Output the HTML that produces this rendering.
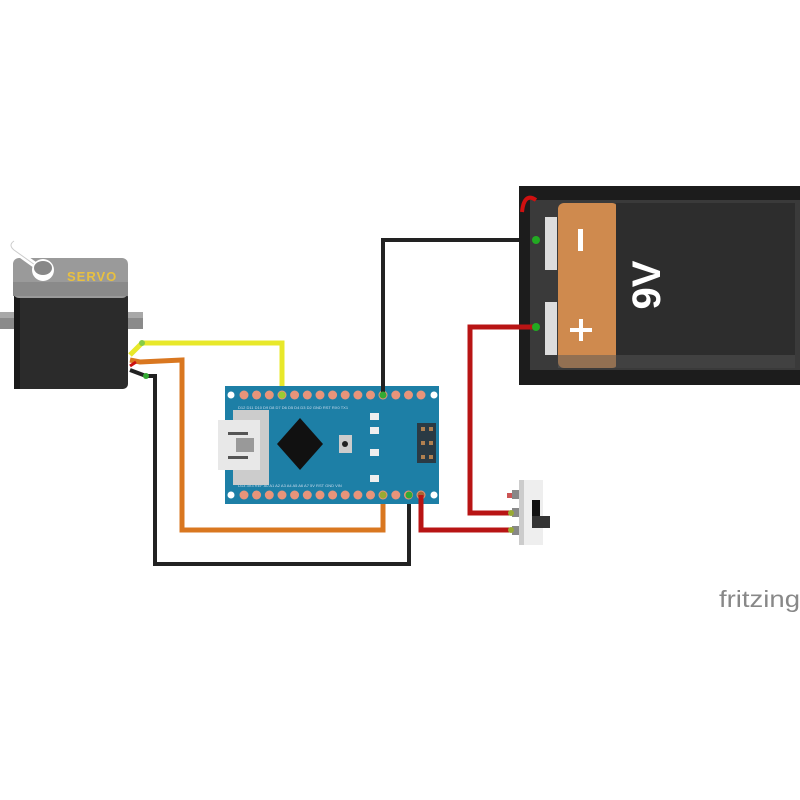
<!DOCTYPE html>
<html><head><style>html,body{margin:0;padding:0;background:#fff}svg{display:block}</style></head>
<body>
<svg width="800" height="800" viewBox="0 0 800 800" xmlns="http://www.w3.org/2000/svg" font-family="Liberation Sans, sans-serif">
<rect width="800" height="800" fill="#fff"/>
<!-- Servo -->
<rect x="0" y="312" width="143" height="17" fill="#8a8a8a"/>
<rect x="0" y="312" width="143" height="6" fill="#a8a8a8"/>
<rect x="14" y="292" width="114" height="97" rx="5" fill="#2b2b2b"/>
<rect x="14" y="292" width="6" height="97" fill="#1a1a1a"/>
<rect x="13" y="258" width="115" height="40" rx="6" fill="#9a9a9a"/>
<rect x="13" y="282" width="115" height="14" fill="#8a8a8a"/>
<path d="M42 270 L14 250 Q8 245 14 241" stroke="#fff" stroke-width="6" fill="none"/>
<path d="M42 270 L14 250 Q8 245 14 241" stroke="#ccc" stroke-width="1" fill="none"/>
<circle cx="43" cy="270" r="11" fill="#fff"/>
<ellipse cx="43" cy="268" rx="9" ry="7" fill="#888"/>
<text x="67" y="281" font-size="13" font-weight="bold" fill="#e8c040" letter-spacing="1">SERVO</text>
<!-- servo wires -->
<path d="M130 355 L142 343 L282 343 L282 396" stroke="#e8e82a" stroke-width="5" fill="none"/>
<path d="M130 360 L140 362 L182 360 L182 530 L383 530 L383 495" stroke="#d97720" stroke-width="5" fill="none"/>
<path d="M130 366 L136 362" stroke="#cc1111" stroke-width="3"/>
<path d="M130 370 L146 376 L155 376 L155 564 L409 564 L409 495" stroke="#222" stroke-width="4" fill="none"/>
<circle cx="142" cy="343" r="3" fill="#8c4"/>
<circle cx="146" cy="376" r="3" fill="#3a3"/>
<!-- Nano board -->
<rect x="225" y="386" width="214" height="118" fill="#1d7fa6"/>
<g fill="#e8947a">
<circle cx="244" cy="395" r="4.5"/><circle cx="256.6" cy="395" r="4.5"/><circle cx="269.3" cy="395" r="4.5"/><circle cx="282" cy="395" r="4.5"/><circle cx="294.6" cy="395" r="4.5"/><circle cx="307.3" cy="395" r="4.5"/><circle cx="320" cy="395" r="4.5"/><circle cx="332.6" cy="395" r="4.5"/><circle cx="345.2" cy="395" r="4.5"/><circle cx="357.9" cy="395" r="4.5"/><circle cx="370.5" cy="395" r="4.5"/><circle cx="383" cy="395" r="4.5"/><circle cx="395.8" cy="395" r="4.5"/><circle cx="408.5" cy="395" r="4.5"/><circle cx="421" cy="395" r="4.5"/>
<circle cx="244" cy="495" r="4.5"/><circle cx="256.6" cy="495" r="4.5"/><circle cx="269.3" cy="495" r="4.5"/><circle cx="282" cy="495" r="4.5"/><circle cx="294.6" cy="495" r="4.5"/><circle cx="307.3" cy="495" r="4.5"/><circle cx="320" cy="495" r="4.5"/><circle cx="332.6" cy="495" r="4.5"/><circle cx="345.2" cy="495" r="4.5"/><circle cx="357.9" cy="495" r="4.5"/><circle cx="370.5" cy="495" r="4.5"/><circle cx="383" cy="495" r="4.5"/><circle cx="395.8" cy="495" r="4.5"/><circle cx="408.5" cy="495" r="4.5"/><circle cx="421" cy="495" r="4.5"/>
</g>
<circle cx="231" cy="395" r="3.5" fill="#fff"/><circle cx="434" cy="395" r="3.5" fill="#fff"/>
<circle cx="231" cy="495" r="3.5" fill="#fff"/><circle cx="434" cy="495" r="3.5" fill="#fff"/>
<g font-size="4" fill="#cde">
<text x="238" y="409">D12 D11 D10 D9 D8 D7 D6 D5 D4 D3 D2 GND RST RX0 TX1</text>
<text x="238" y="487">D13 3V3 REF A0 A1 A2 A3 A4 A5 A6 A7 5V RST GND VIN</text>
</g>
<rect x="233" y="410" width="36" height="75" fill="#ccc"/>
<rect x="218" y="420" width="42" height="50" fill="#e8e8e8"/>
<rect x="228" y="432" width="20" height="3" fill="#555"/><rect x="228" y="456" width="20" height="3" fill="#555"/>
<rect x="236" y="438" width="18" height="14" fill="#999"/>
<polygon points="300,418 323,444 300,470 277,444" fill="#111"/>
<rect x="339" y="435" width="13" height="18" fill="#ccc"/><circle cx="345" cy="444" r="3" fill="#222"/>
<g fill="#eee"><rect x="370" y="413" width="9" height="7"/><rect x="370" y="427" width="9" height="7"/><rect x="370" y="449" width="9" height="7"/><rect x="370" y="475" width="9" height="7"/></g>
<rect x="417" y="423" width="19" height="40" fill="#2a3a44"/>
<g fill="#b08050"><rect x="421" y="427" width="4" height="4"/><rect x="429" y="427" width="4" height="4"/><rect x="421" y="441" width="4" height="4"/><rect x="429" y="441" width="4" height="4"/><rect x="421" y="455" width="4" height="4"/><rect x="429" y="455" width="4" height="4"/></g>
<!-- top GND wire -->
<path d="M383 395 L383 240 L536 240" stroke="#222" stroke-width="4" fill="none"/>
<circle cx="383" cy="395" r="3.5" fill="#3a3"/><circle cx="282" cy="395" r="3.5" fill="#9c3"/>
<circle cx="383" cy="495" r="3.5" fill="#9a3"/><circle cx="409" cy="495" r="3.5" fill="#3a3"/><circle cx="421" cy="495" r="3.5" fill="#a63"/>
<!-- Battery holder -->
<rect x="519" y="186" width="281" height="199" fill="#1c1c1c"/>
<rect x="530" y="200" width="270" height="170" fill="#3a3a3a"/>
<rect x="545" y="217" width="12" height="53" fill="#ddd"/>
<rect x="545" y="302" width="12" height="53" fill="#ddd"/>
<rect x="558" y="203" width="60" height="165" rx="6" fill="#cf8a4e"/>
<rect x="616" y="203" width="179" height="165" fill="#2d2d2d"/>
<rect x="558" y="355" width="237" height="13" fill="#555" opacity="0.5"/>
<rect x="578" y="229" width="5" height="22" fill="#fff"/>
<rect x="570" y="328" width="22" height="4" fill="#fff"/><rect x="579" y="319" width="4" height="22" fill="#fff"/>
<text transform="translate(660,285) rotate(-90)" font-size="40" fill="#fff" text-anchor="middle" font-weight="bold">9V</text>
<path d="M522 212 Q524 192 536 200" stroke="#d01010" stroke-width="4" fill="none"/>
<!-- red wires -->
<path d="M536 327 L470 327 L470 513 L512 513" stroke="#b81414" stroke-width="5" fill="none"/>
<path d="M421 495 L421 530 L512 530" stroke="#b81414" stroke-width="5" fill="none"/>
<circle cx="536" cy="240" r="4" fill="#2a2"/><circle cx="536" cy="327" r="4" fill="#2a2"/>
<!-- switch -->
<rect x="507" y="493" width="6" height="5" fill="#c55"/>
<rect x="512" y="490" width="8" height="9" fill="#888"/><rect x="512" y="508" width="8" height="9" fill="#888"/><rect x="512" y="526" width="8" height="9" fill="#888"/>
<rect x="519" y="480" width="24" height="65" fill="#eee"/>
<rect x="519" y="480" width="5" height="65" fill="#ccc"/>
<rect x="532" y="500" width="8" height="16" fill="#111"/><rect x="532" y="516" width="18" height="12" fill="#333"/>
<circle cx="511" cy="513" r="3" fill="#9a3"/><circle cx="511" cy="530" r="3" fill="#9a3"/>
<!-- fritzing -->
<text x="719" y="607" font-size="23" fill="#888" textLength="81" lengthAdjust="spacingAndGlyphs">fritzing</text>
</svg>
</body></html>
